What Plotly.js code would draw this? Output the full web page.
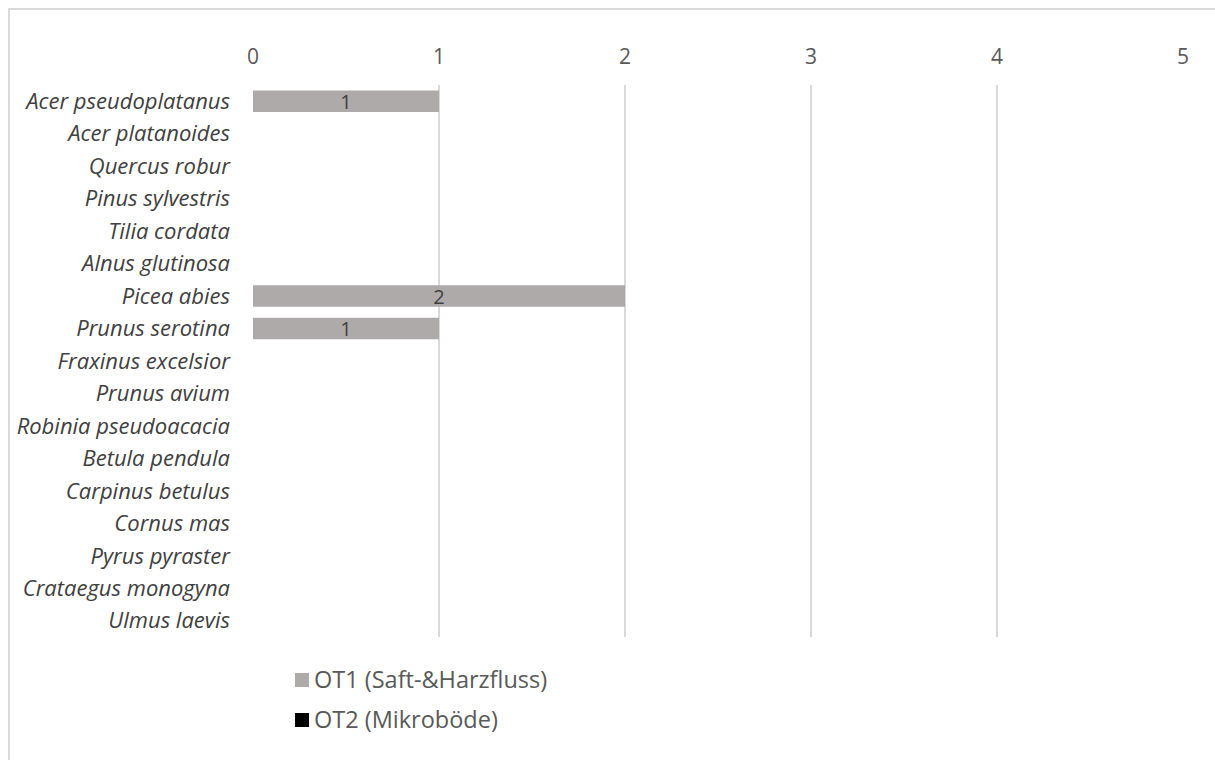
<!DOCTYPE html>
<html>
<head>
<meta charset="utf-8">
<script src="https://cdn.plot.ly/plotly-3.0.1.min.js"></script>
<style>
  html, body { margin: 0; padding: 0; background: #ffffff; }
  #chart { width: 1215px; height: 760px; }
</style>
</head>
<body>
<div id="chart"></div>
<script>
// Tree species, listed top to bottom
const species = [
  "Acer pseudoplatanus", "Acer platanoides", "Quercus robur", "Pinus sylvestris",
  "Tilia cordata", "Alnus glutinosa", "Picea abies", "Prunus serotina",
  "Fraxinus excelsior", "Prunus avium", "Robinia pseudoacacia", "Betula pendula",
  "Carpinus betulus", "Cornus mas", "Pyrus pyraster", "Crataegus monogyna", "Ulmus laevis"
];
// Counts per microhabitat type
const ot1 = [1, 0, 0, 0, 0, 0, 2, 1, 0, 0, 0, 0, 0, 0, 0, 0, 0];
const ot2 = [0, 0, 0, 0, 0, 0, 0, 0, 0, 0, 0, 0, 0, 0, 0, 0, 0];
const seriesNames = ["OT1 (Saft-&Harzfluss)", "OT2 (Mikroböde)"];
const seriesColors = ["#aeaaaa", "#000000"];
const xTicks = [0, 1, 2, 3, 4, 5];

const font = "Open Sans, Noto Sans, sans-serif";

const traces = [
  {
    type: "bar", orientation: "h", name: seriesNames[0],
    y: species, x: ot1,
    marker: { color: seriesColors[0], line: { width: 0 } },
    width: 0.66,
    text: ot1.map(v => v > 0 ? String(v) : ""),
    textposition: "inside", insidetextanchor: "middle", textangle: 0,
    constraintext: "none",
    textfont: { family: font, size: 20, color: "#404040" },
    hoverinfo: "x+y+name"
  },
  {
    type: "bar", orientation: "h", name: seriesNames[1],
    y: species, x: ot2,
    marker: { color: seriesColors[1], line: { width: 0 } },
    width: 0.66,
    hoverinfo: "x+y+name"
  }
];

const W = 1215, H = 760;
const L = 253, R = 32, T = 85, B = 123;
const pw = W - L - R, ph = H - T - B;
const px = v => (v - L) / pw;          // canvas x -> paper x
const py = v => (T + ph - v) / ph;     // canvas y -> paper y

// Legend entries below the plot: a swatch and the series name
const legendRows = [680, 720];
const legendShapes = seriesNames.map((n, i) => ({
  type: "rect", xref: "paper", yref: "paper",
  x0: px(295), x1: px(309), y0: py(legendRows[i] + 7), y1: py(legendRows[i] - 7),
  line: { width: 0 }, fillcolor: seriesColors[i]
}));
const legendText = seriesNames.map((n, i) => ({
  xref: "paper", yref: "paper", x: px(312), y: py(legendRows[i] - 1),
  xanchor: "left", yanchor: "middle", showarrow: false, text: n,
  font: { family: font, size: 23.5, color: "#595959" }
}));

const layout = {
  width: W, height: H,
  margin: { l: L, r: R, t: T, b: B },
  paper_bgcolor: "#ffffff", plot_bgcolor: "#ffffff",
  barmode: "overlay",
  font: { family: font, color: "#595959" },
  showlegend: false,
  xaxis: {
    side: "top", range: [0, 5], tickvals: xTicks, ticktext: xTicks.map(String),
    showgrid: true, gridcolor: "#d9d9d9", gridwidth: 1.5,
    zeroline: false, showline: false, ticks: "",
    ticklabelstandoff: 16,
    tickfont: { family: font, size: 21, color: "#595959" },
    fixedrange: true
  },
  yaxis: {
    type: "category", autorange: "reversed",
    showgrid: false, zeroline: false, showline: false, ticks: "",
    ticklabelstandoff: 22,
    tickfont: { family: font, size: 22, color: "#404040", style: "italic" },
    fixedrange: true
  },
  annotations: legendText,
  shapes: [
    {
      type: "rect", xref: "paper", yref: "paper", layer: "above",
      x0: px(9), x1: px(1225), y0: py(775), y1: py(9),
      line: { color: "#d9d9d9", width: 2 }, fillcolor: "rgba(0,0,0,0)"
    }
  ].concat(legendShapes)
};

Plotly.newPlot("chart", traces, layout, { displayModeBar: false, staticPlot: true });
</script>
</body>
</html>
